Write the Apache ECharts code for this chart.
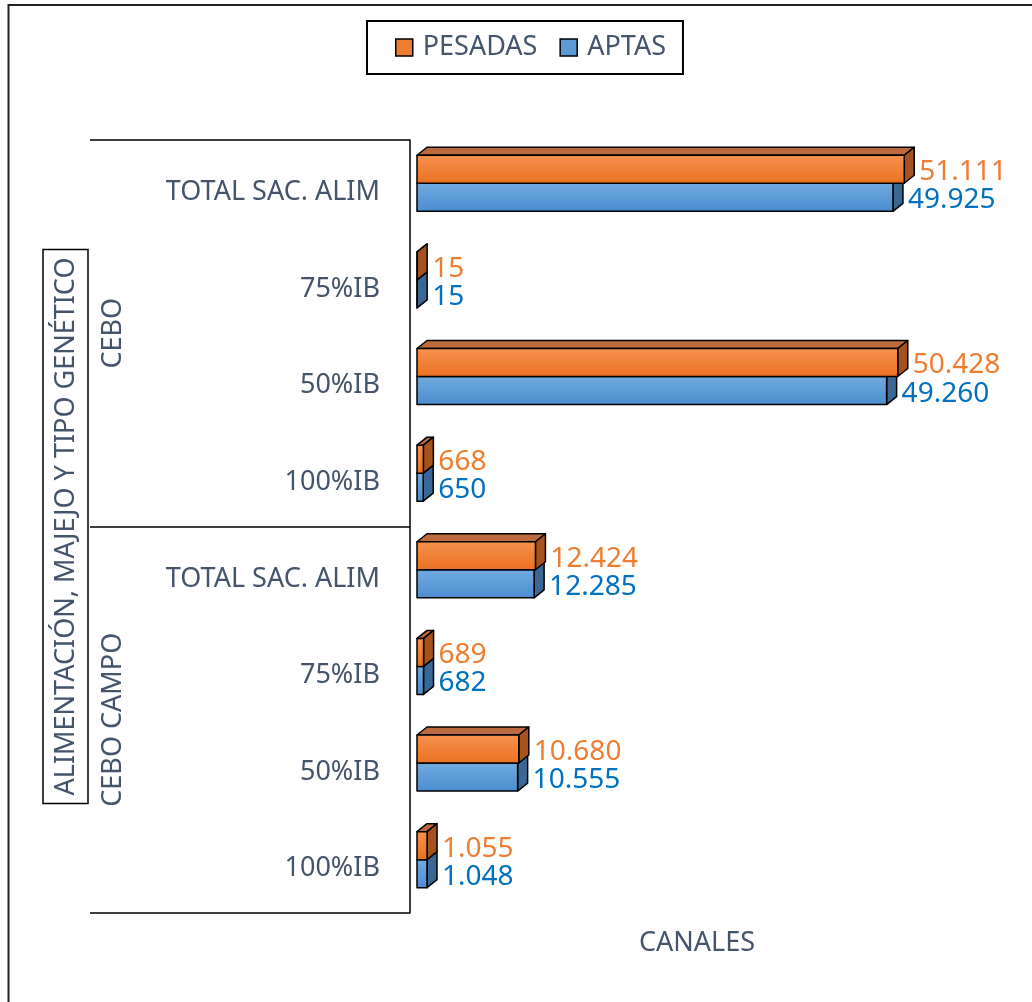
<!DOCTYPE html>
<html>
<head>
<meta charset="utf-8">
<script src="https://cdn.jsdelivr.net/npm/echarts@6/dist/echarts.min.js"></script>
<style>
  html, body { margin: 0; padding: 0; background: #fff; }
  #chart { width: 1032px; height: 1002px; }
</style>
</head>
<body>
<div id="chart"></div>
<script>
// categorías (de arriba a abajo)
const categories = ['TOTAL SAC. ALIM', '75%IB', '50%IB', '100%IB', 'TOTAL SAC. ALIM', '75%IB', '50%IB', '100%IB']
const groups = ['CEBO', 'CEBO CAMPO']
const pesadas = [51111, 15, 50428, 668, 12424, 689, 10680, 1055]
const aptas = [49925, 15, 49260, 650, 12285, 682, 10555, 1048]

const FONT = 'Noto Sans'
const TEXT_COLOR = '#44546A'

const fmt = v => String(v).replace(/\B(?=(\d{3})+(?!\d))/g, '.')

// barra con efecto 3D: cara frontal, superior y lateral
const bar3d = (isTop, colors) => (params, api) => {
  const v = api.value(0)
  const idx = api.value(1)
  const start = api.coord([0, idx])
  const end = api.coord([v, idx])
  const band = api.size([0, 1])[1]
  const h = band * 0.29
  const shift = band * 0.052
  const dx = 10
  const dy = 8
  const x0 = start[0]
  const x1 = end[0]
  const y0 = isTop ? end[1] - shift - h : end[1] - shift
  const stroke = { stroke: '#000', lineWidth: 1.5, lineJoin: 'round' }
  return {
    type: 'group',
    children: [
      {
        type: 'polygon',
        shape: { points: [[x0, y0], [x0 + dx, y0 - dy], [x1 + dx, y0 - dy], [x1, y0]] },
        style: Object.assign({ fill: colors.top }, stroke)
      },
      {
        type: 'polygon',
        shape: { points: [[x1, y0], [x1 + dx, y0 - dy], [x1 + dx, y0 + h - dy], [x1, y0 + h]] },
        style: Object.assign({ fill: colors.side }, stroke)
      },
      {
        type: 'rect',
        shape: { x: x0, y: y0, width: x1 - x0, height: h },
        style: Object.assign({
          fill: new echarts.graphic.LinearGradient(0, 0, 0, 1, [
            { offset: 0, color: colors.light },
            { offset: 1, color: colors.dark }
          ])
        }, stroke)
      },
      {
        type: 'text',
        style: {
          text: fmt(v),
          x: x1 + dx + 5,
          y: y0 + h / 2 + 3,
          fill: colors.label,
          fontSize: 28,
          fontFamily: FONT,
          align: 'left',
          verticalAlign: 'middle'
        }
      }
    ]
  }
}

const orange = { light: '#F79250', dark: '#EA7020', top: '#BC6A3E', side: '#A5521E', label: '#ED7D31' }
const blue = { light: '#72ABDF', dark: '#4A8DD0', top: '#4F7FB0', side: '#3A6794', label: '#0070C0' }

const chart = echarts.init(document.getElementById('chart'))

const option = {
  animation: false,
  backgroundColor: '#fff',
  graphic: [
    {
      type: 'rect',
      shape: { x: 8.5, y: 5, width: 1100, height: 1100 },
      style: { fill: 'none', stroke: '#222', lineWidth: 2 },
      silent: true
    }
  ],
  legend: {
    data: ['PESADAS', 'APTAS'],
    left: 367,
    top: 21,
    padding: [13, 17, 13, 28],
    borderColor: '#000',
    borderWidth: 2,
    icon: 'rect',
    itemWidth: 17,
    itemHeight: 17,
    itemGap: 22,
    itemStyle: { borderColor: '#000', borderWidth: 1.5 },
    textStyle: { color: TEXT_COLOR, fontSize: 27, fontFamily: FONT, padding: [0, 0, 0, 5] }
  },
  grid: {
    left: 417,
    right: 43,
    top: 140,
    bottom: 89
  },
  xAxis: {
    type: 'value',
    min: 0,
    max: 60000,
    axisLine: { show: false },
    axisTick: { show: false },
    axisLabel: { show: false },
    splitLine: { show: false },
    name: 'CANALES',
    nameLocation: 'middle',
    nameGap: 17,
    nameTextStyle: { color: TEXT_COLOR, fontSize: 27, fontFamily: FONT, padding: [0, 12, 0, 0] }
  },
  yAxis: [
    {
      type: 'category',
      data: categories,
      inverse: true,
      position: 'left',
      offset: 7,
      axisLine: { show: true, onZero: false, lineStyle: { color: '#000', width: 1.5 } },
      axisTick: { show: false },
      axisLabel: {
        interval: 0,
        margin: 30,
        formatter: v => '{c|' + v + '}',
        rich: {
          c: { color: TEXT_COLOR, fontSize: 27, fontFamily: FONT, padding: [8, 0, 0, 0] }
        }
      }
    },
    {
      type: 'category',
      data: groups,
      inverse: true,
      position: 'left',
      offset: 7,
      axisLine: { show: false, onZero: false },
      axisTick: { show: true, length: 320, lineStyle: { color: '#000', width: 1.5 } },
      axisLabel: { color: TEXT_COLOR, fontSize: 27, fontFamily: FONT, rotate: 90, margin: 283, interval: 0 },
      name: 'ALIMENTACIÓN, MAJEJO Y TIPO GENÉTICO',
      nameLocation: 'middle',
      nameRotate: 90,
      nameGap: 322,
      nameTextStyle: {
        color: TEXT_COLOR,
        fontSize: 27,
        fontFamily: FONT,
        borderColor: '#000',
        borderWidth: 1.5,
        padding: [10, 8, 8, 8]
      }
    }
  ],
  series: [
    {
      name: 'APTAS',
      type: 'custom',
      renderItem: bar3d(false, blue),
      itemStyle: { color: '#5B9BD5' },
      encode: { x: 0, y: 1 },
      data: aptas.map((v, i) => [v, i])
    },
    {
      name: 'PESADAS',
      type: 'custom',
      renderItem: bar3d(true, orange),
      itemStyle: { color: '#ED7D31' },
      encode: { x: 0, y: 1 },
      data: pesadas.map((v, i) => [v, i])
    }
  ]
}

chart.setOption(option)
</script>
</body>
</html>
